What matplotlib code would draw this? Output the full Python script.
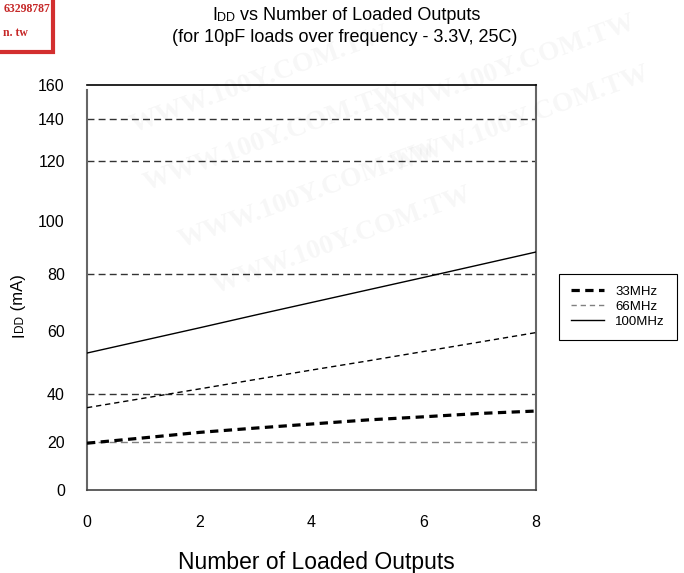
import numpy as np
import matplotlib
matplotlib.use('Agg')
import matplotlib.pyplot as plt
from matplotlib.lines import Line2D
from matplotlib.patches import Rectangle

plt.rcParams['font.family'] = ['Liberation Sans', 'DejaVu Sans']

outputs = [0, 1, 2, 3, 4, 5, 6, 7, 8]
idd_33 = [19.5, 21.7, 24.0, 25.8, 27.5, 29.2, 30.5, 31.9, 32.9]
idd_66 = [34.3, 38.2, 41.6, 44.6, 47.6, 50.5, 53.5, 56.5, 59.5]
idd_100 = [53.0, 57.0, 61.1, 65.6, 70.0, 74.4, 78.8, 83.5, 88.3]
series_names = ['33MHz', '66MHz', '100MHz']

x_ticks = [0, 2, 4, 6, 8]
y_ticks = [0, 20, 40, 60, 80, 100, 120, 140, 160]
grid_levels = [20, 40, 80, 120, 140]

# the printed y axis is not evenly spaced, so map each tick to its height (px above the x axis)
tick_heights = [0, 48, 96, 159, 216, 269, 329, 371, 405]


def forward(v):
    return np.interp(v, y_ticks, tick_heights)


def inverse(t):
    return np.interp(t, tick_heights, y_ticks)


fig = plt.figure(figsize=(6.84, 5.73), dpi=100)
ax = fig.add_axes([87 / 684, 1 - 490 / 573, 449 / 684, 405 / 573])
ax.set_yscale('function', functions=(forward, inverse))

grid_colors = ['#808080', '#333333', '#333333', '#333333', '#333333']
for level, c in zip(grid_levels, grid_colors):
    ax.axhline(level, color=c, lw=1, dashes=(5, 3), zorder=1)

ax.plot(outputs, idd_33, color='black', lw=2.3, dashes=(2.6, 1.7), zorder=3)
ax.plot(outputs, idd_66, color='black', lw=1, dashes=(3.8, 2.8), zorder=3)
ax.plot(outputs, idd_100, color='black', lw=1, zorder=3)

ax.set_xlim(0, 8)
ax.set_ylim(0, 160)
ax.set_xticks(x_ticks)
ax.set_yticks(y_ticks)
ax.tick_params(length=0, labelsize=11.5, colors='black')
ax.tick_params(axis='x', pad=18)
ax.tick_params(axis='y', pad=16)

ax.spines['left'].set_color('#666666')
ax.spines['left'].set_linewidth(1.5)
ax.spines['left'].set_bounds(0, 157)
ax.spines['right'].set_color('#666666')
ax.spines['right'].set_linewidth(1.5)
ax.spines['bottom'].set_color('#444444')
ax.spines['bottom'].set_linewidth(1.2)
ax.spines['top'].set_color('black')
ax.spines['top'].set_linewidth(1.2)

# legend drawn with the datasheet's handle styles (66MHz swatch is grey)
handles = [Line2D([], [], color='black', lw=2.3, dashes=(2.6, 1.7)),
           Line2D([], [], color='#808080', lw=1, dashes=(3.8, 2.8)),
           Line2D([], [], color='black', lw=1)]
leg = fig.legend(handles, series_names, loc='upper left', bbox_to_anchor=(559 / 684, 1 - 274 / 573),
                 fontsize=9.5, frameon=True, fancybox=False, edgecolor='black', framealpha=1,
                 handlelength=2.5, handletextpad=0.85, labelspacing=0.2, borderpad=0.9, borderaxespad=0)
leg.get_frame().set_linewidth(0.8)

# titles with the small-caps "DD" of IDD
t1 = fig.text(212 / 684, 1 - 20 / 573, 'I', ha='left', va='baseline', fontsize=13)
t2 = ax.annotate('DD', xy=(1, 0), xycoords=t1, ha='left', va='bottom', fontsize=9)
ax.annotate(' vs Number of Loaded Outputs', xy=(1, 0), xycoords=t2, ha='left', va='bottom', fontsize=13)
fig.text(345 / 684, 1 - 37 / 573, '(for 10pF loads over frequency - 3.3V, 25C)', ha='center', va='center',
         fontsize=13)

y1 = fig.text(19 / 684, 1 - 337 / 573, 'I', rotation=90, ha='center', va='bottom', fontsize=12)
y2 = ax.annotate('DD', xy=(1, 1), xycoords=y1, ha='right', va='bottom', rotation=90, fontsize=8.5)
ax.annotate(' (mA)', xy=(1, 1), xycoords=y2, ha='right', va='bottom', rotation=90, fontsize=12)

fig.text(316 / 684, 1 - 562 / 573, 'Number of Loaded Outputs', ha='center', va='center', fontsize=16.5)

# red stamp in the top-left corner of the scan
fig.patches.append(Rectangle((-0.02, 1 - 52 / 573), 0.02 + 53 / 684, 0.2, transform=fig.transFigure,
                             fill=False, edgecolor='#d32f2f', lw=3))
fig.text(50 / 684, 1 - 9 / 573, '63298787', ha='right', va='center', fontsize=8.5, color='#c62828',
         family='Liberation Serif', weight='bold')
fig.text(3 / 684, 1 - 33 / 573, 'n. tw', ha='left', va='center', fontsize=8.5, color='#c62828',
         family='Liberation Serif', weight='bold')

# faint scan watermarks
for wx, wy in [(0.38, 0.86), (0.40, 0.76), (0.45, 0.66), (0.50, 0.58), (0.74, 0.88), (0.76, 0.79)]:
    fig.text(wx, wy, 'WWW.100Y.COM.TW', rotation=20, fontsize=20, color='#000000', alpha=0.035,
             family='Liberation Serif', weight='bold', ha='center', va='center', zorder=0)

fig.savefig('out.png', dpi=100)
